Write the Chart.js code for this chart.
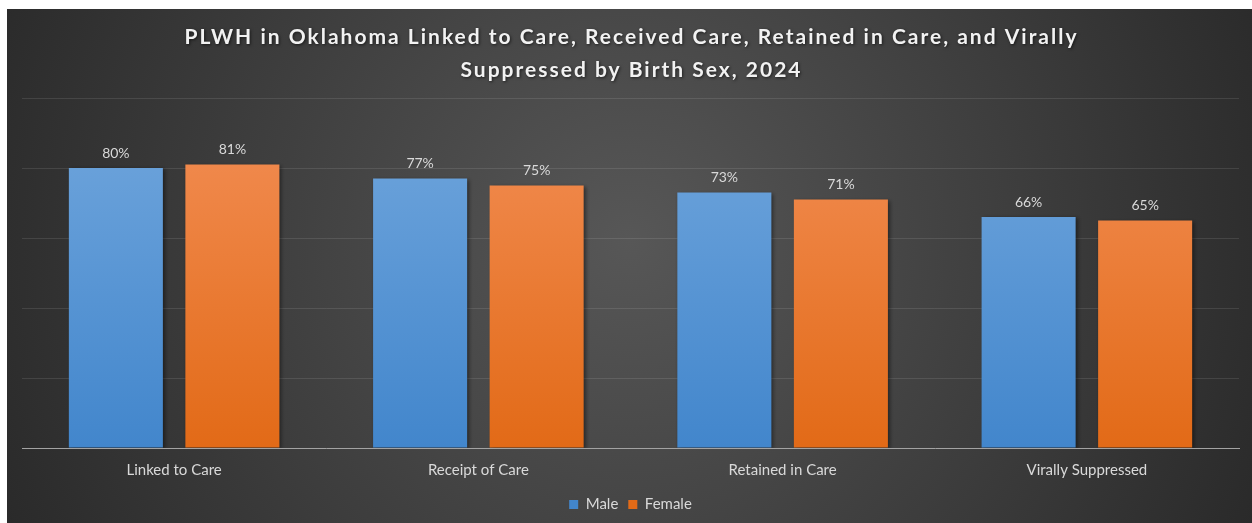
<!DOCTYPE html>
<html>
<head>
<meta charset="utf-8">
<title>PLWH in Oklahoma by Birth Sex, 2024</title>
<script src="https://cdn.jsdelivr.net/npm/chart.js@4.4.1/dist/chart.umd.min.js"></script>
<style>
    html, body { margin: 0; padding: 0; background: #ffffff; }
    #wrap { position: absolute; left: 7px; top: 9px; width: 1245px; height: 514px; }
</style>
</head>
<body>
<div id="wrap"><canvas id="careChart"></canvas></div>
<script>
// ==================== CARE CONTINUUM BY BIRTH SEX ====================
const categories = ['Linked to Care', 'Receipt of Care', 'Retained in Care', 'Virally Suppressed'];
const maleValues = [80, 77, 73, 66];
const femaleValues = [81, 75, 71, 65];
const seriesNames = ['Male', 'Female'];
const titleLines = ['PLWH in Oklahoma Linked to Care, Received Care, Retained in Care, and Virally', 'Suppressed by Birth Sex, 2024'];

const FONT = 'Lato, "Open Sans", sans-serif';
const TEXT = '#d9d9d9';

// Vertical gradient for each bar series, lighter at the top
function barGradient(top, bottom) {
    return function(context) {
        const chart = context.chart;
        const area = chart.chartArea;
        if (!area) return bottom;
        const g = chart.ctx.createLinearGradient(0, area.top, 0, area.bottom);
        g.addColorStop(0, top);
        g.addColorStop(1, bottom);
        return g;
    };
}

// Dark radial background behind everything
const backdrop = {
    id: 'backdrop',
    beforeDraw(chart) {
        const { ctx, width, height } = chart;
        const g = ctx.createRadialGradient(width / 2, height * 0.45, 0, width / 2, height * 0.45, width * 0.55);
        g.addColorStop(0, '#575757');
        g.addColorStop(1, '#2a2a2a');
        ctx.save();
        ctx.fillStyle = g;
        ctx.fillRect(0, 0, width, height);
        ctx.restore();
    }
};

// Soft shadow to the right of the bars
const barShadow = {
    id: 'barShadow',
    beforeDatasetDraw(chart) {
        const ctx = chart.ctx;
        ctx.save();
        ctx.shadowColor = 'rgba(0,0,0,0.45)';
        ctx.shadowBlur = 4;
        ctx.shadowOffsetX = 2;
        ctx.shadowOffsetY = 1;
    },
    afterDatasetDraw(chart) {
        chart.ctx.restore();
    }
};

// Percent labels above each bar
const valueLabels = {
    id: 'valueLabels',
    afterDatasetsDraw(chart) {
        const ctx = chart.ctx;
        ctx.save();
        ctx.font = '14px ' + FONT;
        ctx.fillStyle = TEXT;
        ctx.textAlign = 'center';
        ctx.textBaseline = 'middle';
        chart.data.datasets.forEach((ds, i) => {
            chart.getDatasetMeta(i).data.forEach((bar, j) => {
                ctx.fillText(ds.data[j] + '%', bar.x, bar.y - 15);
            });
        });
        ctx.restore();
    }
};

// Two-line title with a faint drop shadow
const shadowTitle = {
    id: 'shadowTitle',
    afterDraw(chart) {
        const ctx = chart.ctx;
        ctx.save();
        ctx.font = 'bold 21px ' + FONT;
        ctx.letterSpacing = '2px';
        ctx.fillStyle = '#f2f2f2';
        ctx.textAlign = 'center';
        ctx.textBaseline = 'middle';
        ctx.shadowColor = 'rgba(0,0,0,0.6)';
        ctx.shadowBlur = 3;
        ctx.shadowOffsetX = 1;
        ctx.shadowOffsetY = 1;
        titleLines.forEach((line, i) => {
            ctx.fillText(line, chart.width / 2 + 2, 28 + i * 33);
        });
        ctx.restore();
    }
};

const ctx = document.getElementById('careChart');
new Chart(ctx, {
    type: 'bar',
    data: {
        labels: categories,
        datasets: [
            {
                label: seriesNames[0],
                data: maleValues,
                backgroundColor: barGradient('#72a7dd', '#4286cc'),
                categoryPercentage: 0.766,
                barPercentage: 0.807
            },
            {
                label: seriesNames[1],
                data: femaleValues,
                backgroundColor: barGradient('#f38f57', '#e26a17'),
                categoryPercentage: 0.766,
                barPercentage: 0.807
            }
        ]
    },
    options: {
        responsive: true,
        maintainAspectRatio: false,
        animation: false,
        layout: { padding: { top: 89, left: 15, right: 13, bottom: 1 } },
        plugins: {
            title: { display: false },
            tooltip: { enabled: false },
            legend: {
                position: 'bottom',
                labels: {
                    color: TEXT,
                    font: { family: FONT, size: 15 },
                    boxWidth: 9,
                    boxHeight: 9,
                    padding: 10
                }
            }
        },
        scales: {
            y: {
                min: 0,
                max: 100,
                ticks: { display: false, stepSize: 20 },
                grid: { color: 'rgba(255,255,255,0.1)', drawTicks: false },
                border: { display: false }
            },
            x: {
                ticks: { color: TEXT, font: { family: FONT, size: 15 }, padding: 13 },
                grid: { display: false, drawTicks: false },
                border: { display: true, color: '#a3a3a3', width: 1 },
                afterFit(scale) { scale.height = 39; }
            }
        }
    },
    plugins: [backdrop, barShadow, valueLabels, shadowTitle]
});
</script>
</body>
</html>
